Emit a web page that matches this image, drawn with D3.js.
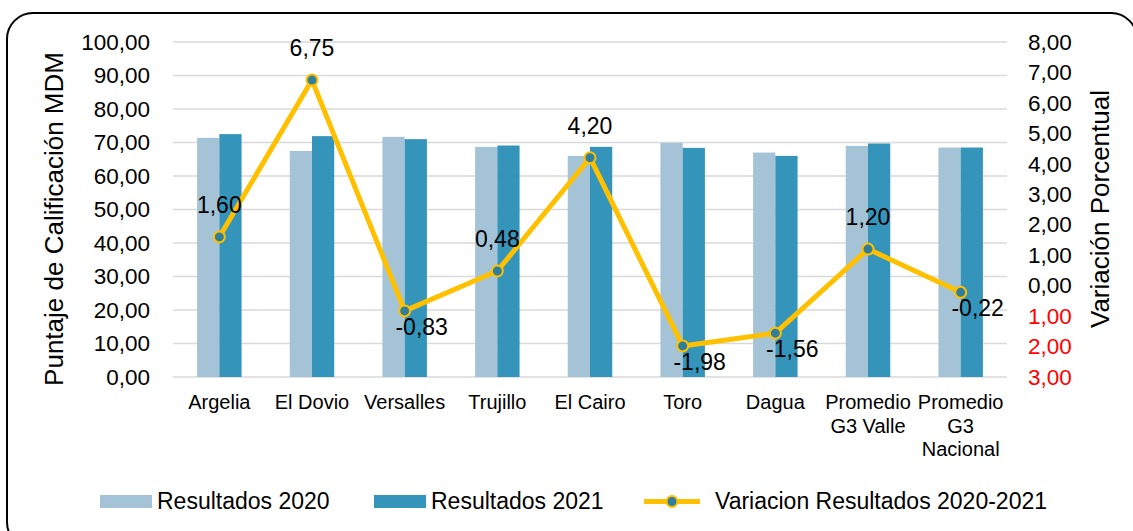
<!DOCTYPE html>
<html>
<head>
<meta charset="utf-8">
<script src="https://cdn.jsdelivr.net/npm/d3@7"></script>
<style>
  body { margin: 0; background: #fff; }
  svg { display: block; font-family: "Liberation Sans", Arial, sans-serif; }
</style>
</head>
<body>
<svg id="chart" width="1133" height="531"></svg>
<script>
var categories = ["Argelia", "El Dovio", "Versalles", "Trujillo", "El Cairo", "Toro", "Dagua",
  "Promedio\nG3 Valle", "Promedio\nG3\nNacional"];
var results2020 = [71.4, 67.5, 71.7, 68.7, 66.0, 69.9, 67.0, 69.0, 68.5];
var results2021 = [72.5, 71.9, 71.0, 69.1, 68.7, 68.4, 66.0, 69.7, 68.5];
var variation = [1.60, 6.75, -0.83, 0.48, 4.20, -1.98, -1.56, 1.20, -0.22];
var leftTicks = [0, 10, 20, 30, 40, 50, 60, 70, 80, 90, 100];
var rightTicks = [-3, -2, -1, 0, 1, 2, 3, 4, 5, 6, 7, 8];
var seriesNames = ["Resultados 2020", "Resultados 2021", "Variacion Resultados 2020-2021"];

var colors = { c2020: "#a5c3d6", c2021: "#3594ba", line: "#ffc000", marker: "#2f7f9c", grid: "#d9d9d9" };

var svg = d3.select("#chart");
var plot = { left: 173, right: 1007, top: 42, bottom: 377 };

// outer frame
svg.append("rect")
  .attr("x", 7).attr("y", 13)
  .attr("width", 1130).attr("height", 535)
  .attr("rx", 26).attr("ry", 26)
  .attr("fill", "none").attr("stroke", "#000").attr("stroke-width", 2);

var x = d3.scaleBand().domain(categories).range([plot.left, plot.right])
  .paddingInner(0.52).paddingOuter(0.26);
var x1 = d3.scaleBand().domain(["2020", "2021"]).range([0, x.bandwidth()]);
var yL = d3.scaleLinear().domain([0, 100]).range([plot.bottom, plot.top]);
var yR = d3.scaleLinear().domain([-3, 8]).range([plot.bottom, plot.top]);

var fmt = function(v) { return d3.format(".2f")(Math.abs(v)).replace(".", ","); };
var fmtSigned = function(v) { return d3.format(".2f")(v).replace(".", ",").replace("\u2212", "-"); };

// gridlines
svg.append("g").selectAll("line")
  .data(leftTicks)
  .enter().append("line")
  .attr("x1", plot.left).attr("x2", plot.right)
  .attr("y1", function(d){ return yL(d); })
  .attr("y2", function(d){ return yL(d); })
  .attr("stroke", colors.grid).attr("stroke-width", 1.5);

// left axis
var leftAxis = svg.append("g")
  .attr("transform", "translate(" + (plot.left - 23) + ",0)")
  .call(d3.axisLeft(yL).tickValues(leftTicks).tickSize(0).tickPadding(0)
    .tickFormat(function(d){ return fmt(d); }));
leftAxis.select(".domain").remove();
leftAxis.selectAll("text").attr("font-size", 22.5).attr("fill", "#000")
  .attr("font-family", "Liberation Sans, Arial, sans-serif");

// right axis
var rightAxis = svg.append("g")
  .attr("transform", "translate(" + (plot.right + 21) + ",0)")
  .call(d3.axisRight(yR).tickValues(rightTicks).tickSize(0).tickPadding(0)
    .tickFormat(function(d){ return fmt(d); }));
rightAxis.select(".domain").remove();
rightAxis.selectAll("text").attr("font-size", 22.5)
  .attr("font-family", "Liberation Sans, Arial, sans-serif")
  .attr("fill", function(d){ return d < 0 ? "#ff0000" : "#000"; });

// axis titles
svg.append("text")
  .attr("transform", "translate(63,219) rotate(-90)")
  .attr("text-anchor", "middle")
  .attr("font-size", 26)
  .text("Puntaje de Calificación MDM");
svg.append("text")
  .attr("transform", "translate(1109,209) rotate(-90)")
  .attr("text-anchor", "middle")
  .attr("font-size", 26)
  .text("Variación Porcentual");

// bars
var groups = svg.append("g").selectAll("g")
  .data(categories)
  .enter().append("g")
  .attr("transform", function(d){ return "translate(" + x(d) + ",0)"; });

groups.append("rect")
  .attr("x", x1("2020")).attr("width", x1.bandwidth())
  .attr("y", function(d, i){ return yL(results2020[i]); })
  .attr("height", function(d, i){ return yL(0) - yL(results2020[i]); })
  .attr("fill", colors.c2020);
groups.append("rect")
  .attr("x", x1("2021")).attr("width", x1.bandwidth())
  .attr("y", function(d, i){ return yL(results2021[i]); })
  .attr("height", function(d, i){ return yL(0) - yL(results2021[i]); })
  .attr("fill", colors.c2021);

// category labels
var catLabels = svg.append("g").selectAll("text")
  .data(categories)
  .enter().append("text")
  .attr("text-anchor", "middle")
  .attr("font-size", 20)
  .attr("x", function(d){ return x(d) + x.bandwidth() / 2; })
  .attr("y", 409);
catLabels.selectAll("tspan")
  .data(function(d){ return d.split("\n").map(function(t){ return { t: t, c: d }; }); })
  .enter().append("tspan")
  .attr("x", function(d){ return x(d.c) + x.bandwidth() / 2; })
  .attr("dy", function(d, i){ return i === 0 ? 0 : 23.5; })
  .text(function(d){ return d.t; });

// variation line
var cx = function(i){ return x(categories[i]) + x.bandwidth() / 2; };
var line = d3.line()
  .x(function(d, i){ return cx(i); })
  .y(function(d){ return yR(d); });

svg.append("path")
  .datum(variation)
  .attr("d", line)
  .attr("fill", "none")
  .attr("stroke", colors.line)
  .attr("stroke-width", 5)
  .attr("stroke-linejoin", "round");

svg.append("g").selectAll("circle")
  .data(variation)
  .enter().append("circle")
  .attr("cx", function(d, i){ return cx(i); })
  .attr("cy", function(d){ return yR(d); })
  .attr("r", 5.5)
  .attr("fill", colors.marker)
  .attr("stroke", colors.line)
  .attr("stroke-width", 2);

// data labels
svg.append("g").selectAll("text")
  .data(variation)
  .enter().append("text")
  .attr("text-anchor", "middle")
  .attr("font-size", 23)
  .attr("x", function(d, i){ return cx(i) + (d < 0 ? 17 : 0); })
  .attr("y", function(d){ return yR(d) + (d < 0 ? 24 : -24); })
  .text(function(d){ return fmtSigned(d); });

// legend
var legend = svg.append("g").attr("font-size", 23);
legend.append("rect").attr("x", 100).attr("y", 495).attr("width", 52).attr("height", 13)
  .attr("fill", colors.c2020);
legend.append("text").attr("x", 157).attr("y", 509).text(seriesNames[0]);
legend.append("rect").attr("x", 374).attr("y", 495).attr("width", 52).attr("height", 13)
  .attr("fill", colors.c2021);
legend.append("text").attr("x", 431).attr("y", 509).text(seriesNames[1]);
legend.append("line").attr("x1", 644).attr("x2", 700).attr("y1", 501.5).attr("y2", 501.5)
  .attr("stroke", colors.line).attr("stroke-width", 5);
legend.append("circle").attr("cx", 672).attr("cy", 501.5).attr("r", 5.5)
  .attr("fill", colors.marker).attr("stroke", colors.line).attr("stroke-width", 2);
legend.append("text").attr("x", 715).attr("y", 509).text(seriesNames[2]);
</script>
</body>
</html>
